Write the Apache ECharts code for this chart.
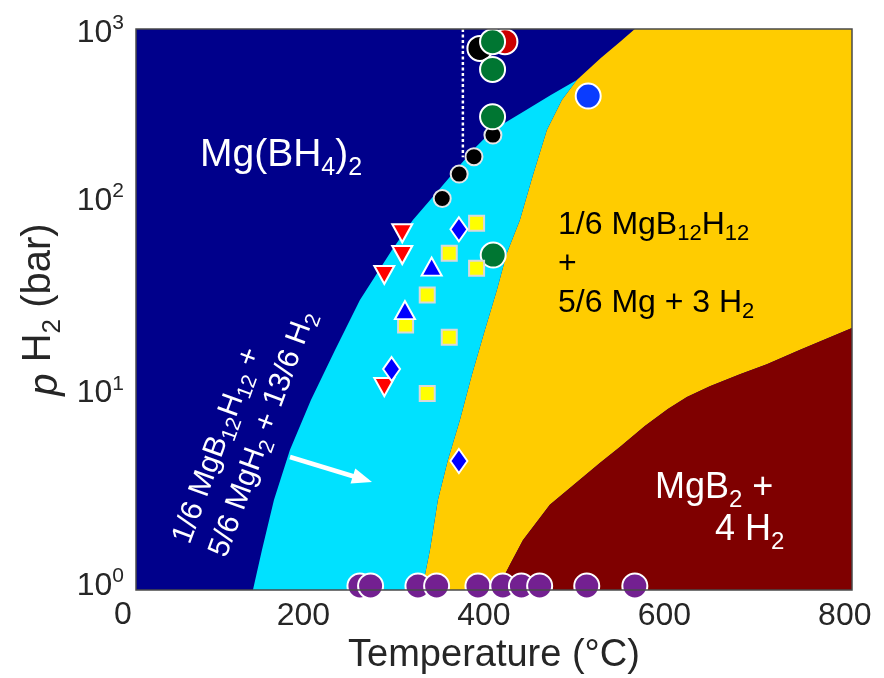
<!DOCTYPE html>
<html>
<head>
<meta charset="utf-8">
<script src="https://cdn.jsdelivr.net/npm/echarts@6/dist/echarts.min.js"></script>
<style>
html, body { margin: 0; padding: 0; background: #fff; }
#chart { width: 884px; height: 678px; }
</style>
</head>
<body>
<div id="chart"></div>
<script>
// axis ranges (°C, bar)
const tMin = 14.4, tMax = 808;
const pMin = 0.953, pMax = 783;
const xTicks = [200, 400, 600, 800];
const yTicks = [1, 10, 100];

// phase boundaries, [T, p]
// Mg(BH4)2 -> cyan phase, up to the triple point
const bndBH4 = [[144, 0.953], [154, 1.54], [167.3, 2.8], [185, 5.09], [208.3, 9.25], [234.9, 16.8], [262.6, 30.6],
  [298.1, 55.6], [321.3, 79.6], [340.2, 101], [387.8, 184], [410, 234], [443.2, 290], [474.2, 356], [503, 425]];
// Mg(BH4)2 -> yellow phase, above the triple point
const bndBH4Top = [[503, 425], [529.6, 553], [550.7, 670], [567.3, 783]];
// cyan -> yellow
const bndB12 = [[331.3, 0.953], [340.2, 1.54], [349, 2.8], [360.1, 4.51], [373.4, 7.28], [386.7, 12.5], [401.1, 21.4],
  [414.4, 34.5], [425.5, 53.7], [439.9, 79.6], [454.3, 136], [469.8, 234], [486.4, 335], [503, 425]];
// yellow -> MgB2
const bndMgB2 = [[414.4, 0.953], [428.8, 1.29], [443.2, 1.73], [473.1, 2.64], [528.5, 4.35], [550.7, 5.27],
  [578.4, 6.78], [603.9, 8.3], [625, 9.59], [650.4, 10.9], [683.7, 12.6], [713.6, 14.2], [749.2, 16.8], [808, 21.9]];

// measurements
const blackSmall = [[353.8, 103], [372.6, 138], [389, 170], [410, 220]];
const blackBig = [[395.6, 621]];
const redBig = [[423.3, 673]];
const greenBig = [[409.6, 673], [409.6, 483], [409.6, 274], [410.3, 52.4]];
const blueBig = [[515.6, 351]];
const redDown = [[309.5, 68.0], [309.5, 52.4], [289.6, 41.3], [289.6, 10.8]];
const blueDiamond = [[372.3, 71.3], [297.7, 13.4], [372.3, 4.46]];
const blueUp = [[342.1, 45.6], [312.5, 27.1]];
const yellowSq = [[391.9, 76.6], [361.6, 53.5], [391.9, 44.7], [337.2, 32.5], [313.2, 22.7], [361.6, 19.6], [337.2, 10.0]];
const purple = [[262.6, 1], [274.4, 1], [326.9, 1], [347.6, 1], [393.4, 1], [421, 1], [441.6, 1], [461.8, 1], [514, 1], [567.3, 1]];
const dotLine = [[376.7, 783], [376.7, 169]];

const gridL = 136, gridT = 29, gridR = 852, gridB = 590;
const txt = '#262626';
const font = 'Liberation Sans';

// region polygons built from the boundaries
const cyanPoly = bndBH4.concat(bndB12.slice(0, -1).reverse());
const yellowPoly = bndB12.concat(bndBH4Top.slice(1), [[tMax, pMax]], bndMgB2.slice().reverse());
const redPoly = bndMgB2.concat([[tMax, pMin]]);
const regionPolys = [yellowPoly, cyanPoly, redPoly];
const regionColors = ['#ffcc00', '#00e1ff', '#7f0000'];

const chart = echarts.init(document.getElementById('chart'));

function marker(name, data, symbol, size, color, border, extra) {
  return Object.assign({
    name: name,
    type: 'scatter',
    data: data,
    symbol: symbol,
    symbolSize: size,
    itemStyle: { color: color, borderColor: border || '#ffffff', borderWidth: 2, opacity: 1 },
    silent: true,
    z: 5
  }, extra || {});
}

function subText(size, color) {
  return { s: { fontSize: size, lineHeight: size + 4, verticalAlign: 'bottom', fill: color, color: color } };
}

let option = {
  animation: false,
  backgroundColor: '#ffffff',
  textStyle: { fontFamily: font },
  grid: {
    left: gridL, top: gridT, right: 884 - gridR, bottom: 678 - gridB,
    containLabel: false,
    outerBoundsMode: 'none',
    show: true,
    backgroundColor: '#00008b',
    borderWidth: 0
  },
  xAxis: {
    type: 'value',
    min: tMin,
    max: tMax,
    name: 'Temperature (°C)',
    nameLocation: 'middle',
    nameGap: 43,
    nameTextStyle: { fontSize: 38, color: txt },
    axisLine: { show: false },
    axisTick: { show: false },
    splitLine: { show: false },
    axisLabel: {
      customValues: xTicks,
      fontSize: 32,
      color: txt,
      margin: 10
    }
  },
  yAxis: {
    type: 'log',
    logBase: 10,
    min: pMin,
    max: pMax,
    name: '{i|p} H{s|2} (bar)',
    nameLocation: 'middle',
    nameRotate: 90,
    nameGap: 70,
    nameTextStyle: {
      fontSize: 40,
      color: txt,
      rich: {
        i: { fontSize: 40, fontStyle: 'italic', color: txt, lineHeight: 54, verticalAlign: 'bottom' },
        s: { fontSize: 26, color: txt, lineHeight: 30, verticalAlign: 'bottom' }
      }
    },
    axisLine: { show: false },
    axisTick: { show: false },
    splitLine: { show: false },
    axisLabel: {
      customValues: yTicks,
      margin: 12,
      formatter: function (v) {
        return '{b|10}{e|' + Math.round(Math.log10(v)) + '}';
      },
      rich: {
        b: { fontSize: 32, color: txt, lineHeight: 40 },
        e: { fontSize: 21, color: txt, lineHeight: 21, verticalAlign: 'top' }
      }
    }
  },
  graphic: [
    // plot frame
    {
      type: 'rect', z: 100, silent: true,
      shape: { x: gridL, y: gridT, width: gridR - gridL, height: gridB - gridT },
      style: { fill: null, stroke: '#4a4a4a', lineWidth: 1.5 }
    },
    { type: 'text', x: 123, y: 615, z: 100, style: { text: '0', fontSize: 32, fill: txt, align: 'center', verticalAlign: 'middle', fontFamily: font } },
    {
      type: 'text', x: 124, y: 33, z: 100,
      style: {
        text: '{b|10}{e|3}', align: 'right', verticalAlign: 'middle', fontFamily: font,
        rich: {
          b: { fontSize: 32, fill: txt, lineHeight: 40, fontFamily: font },
          e: { fontSize: 21, fill: txt, lineHeight: 21, verticalAlign: 'top', fontFamily: font }
        }
      }
    },
    {
      type: 'text', x: 200, y: 155, z: 100,
      style: {
        text: 'Mg(BH{s|4}){s|2}', fontSize: 39, lineHeight: 52, fill: '#ffffff', verticalAlign: 'middle', fontFamily: font,
        rich: subText(25, '#ffffff')
      }
    },
    {
      type: 'text', x: 558, y: 264, z: 100,
      style: {
        text: '1/6 MgB{s|12}H{s|12}\n+\n5/6 Mg + 3 H{s|2}', fontSize: 32, lineHeight: 39, fill: '#000000', verticalAlign: 'middle', fontFamily: font,
        rich: subText(22, '#000000')
      }
    },
    {
      type: 'text', x: 200, y: 549, z: 100, rotation: 70 * Math.PI / 180,
      style: {
        text: '1/6 MgB{s|12}H{s|12} +\n5/6 MgH{s|2} + 13/6 H{s|2}', fontSize: 30, lineHeight: 39, fill: '#ffffff', align: 'left', verticalAlign: 'middle', fontFamily: font,
        rich: subText(21, '#ffffff')
      }
    },
    {
      type: 'text', x: 655, y: 488, z: 100,
      style: {
        text: 'MgB{s|2} +', fontSize: 36, lineHeight: 48, fill: '#ffffff', verticalAlign: 'middle', fontFamily: font,
        rich: subText(24, '#ffffff')
      }
    },
    {
      type: 'text', x: 715, y: 530, z: 100,
      style: {
        text: '4 H{s|2}', fontSize: 36, lineHeight: 48, fill: '#ffffff', verticalAlign: 'middle', fontFamily: font,
        rich: subText(24, '#ffffff')
      }
    },
    // arrow
    { type: 'line', z: 100, shape: { x1: 290, y1: 457, x2: 354, y2: 476.5 }, style: { stroke: '#ffffff', lineWidth: 4.5 } },
    { type: 'polygon', z: 100, shape: { points: [[372, 482], [350.5, 483.6], [355.3, 468.4]] }, style: { fill: '#ffffff' } }
  ],
  series: [
    {
      type: 'custom',
      coordinateSystem: 'cartesian2d',
      silent: true,
      clip: true,
      z: 1,
      data: regionPolys.map(function (p) { return p[0]; }),
      renderItem: function (params, api) {
        const poly = regionPolys[params.dataIndex];
        return {
          type: 'polygon',
          shape: { points: poly.map(function (pt) { return api.coord(pt); }) },
          style: { fill: regionColors[params.dataIndex] }
        };
      }
    },
    {
      type: 'line',
      data: dotLine,
      symbol: 'none',
      silent: true,
      z: 3,
      lineStyle: { color: '#ffffff', width: 2.5, type: [3, 2.5] }
    },
    marker('black', blackSmall, 'circle', 17, '#000000', '#e6e6e6'),
    marker('black big', blackBig, 'circle', 25, '#000000'),
    marker('red big', redBig, 'circle', 25, '#cc0000'),
    marker('green', greenBig, 'circle', 25, '#007632'),
    marker('blue', blueBig, 'circle', 25, '#0a3cff'),
    marker('red down', redDown, 'triangle', [20, 18], '#ff0000', '#ffffff', { symbolRotate: 180 }),
    marker('yellow', yellowSq, 'rect', 15, '#ffff00', '#d9d9d9'),
    marker('blue up', blueUp, 'triangle', [20, 18], '#0000ff'),
    marker('blue diamond', blueDiamond, 'diamond', [17, 24], '#0000ff'),
    marker('purple', purple, 'circle', 25, '#732091', '#ffffff', { clip: false })
  ]
};
chart.setOption(option);
</script>
</body>
</html>
